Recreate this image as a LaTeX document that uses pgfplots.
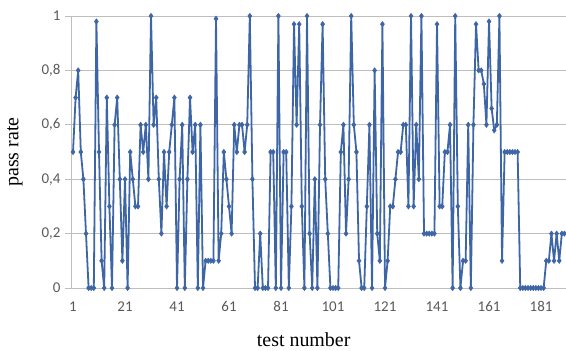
\documentclass[border=0pt]{standalone}
\usepackage{pgfplots}
\pgfplotsset{compat=1.18}
\usepackage{pgfplotstable}
\usepackage{fontspec}
\setmainfont{Liberation Serif}
\newfontfamily\carlito{Carlito}
\definecolor{serblue}{RGB}{62,102,166}
\definecolor{gridgray}{RGB}{190,190,190}
\definecolor{ticktext}{RGB}{89,89,89}
\pgfplotstableread{
x y
1 0.5
2 0.7
3 0.8
4 0.5
5 0.4
6 0.2
7 0
8 0
9 0
10 0.98
11 0.5
12 0.1
13 0
14 0.7
15 0.3
16 0
17 0.6
18 0.7
19 0.4
20 0.1
21 0.4
22 0
23 0.5
24 0.4
25 0.3
26 0.3
27 0.6
28 0.5
29 0.6
30 0.4
31 1.0
32 0.6
33 0.7
34 0.4
35 0.2
36 0.5
37 0.3
38 0.5
39 0.6
40 0.7
41 0
42 0.4
43 0.6
44 0
45 0.4
46 0.7
47 0.5
48 0.6
49 0
50 0.6
51 0
52 0.1
53 0.1
54 0.1
55 0.1
56 0.99
57 0.1
58 0.2
59 0.5
60 0.4
61 0.3
62 0.2
63 0.6
64 0.5
65 0.6
66 0.6
67 0.5
68 0.6
69 1.0
70 0.4
71 0
72 0
73 0.2
74 0
75 0
76 0
77 0.5
78 0.5
79 0
80 1.0
81 0
82 0.5
83 0.5
84 0
85 0.3
86 0.97
87 0.6
88 0.97
89 0.3
90 0
91 1.0
92 0.2
93 0
94 0.4
95 0
96 0.6
97 0.97
98 0.4
99 0.2
100 0
101 0
102 0
103 0
104 0.5
105 0.6
106 0.2
107 0.4
108 1.0
109 0.6
110 0.5
111 0.1
112 0
113 0
114 0.3
115 0.6
116 0
117 0.8
118 0.2
119 0.1
120 0.97
121 0
122 0.1
123 0.3
124 0.3
125 0.4
126 0.5
127 0.5
128 0.6
129 0.6
130 0.3
131 1.0
132 0.3
133 0.6
134 0.4
135 1.0
136 0.2
137 0.2
138 0.2
139 0.2
140 0.2
141 0.97
142 0.3
143 0.3
144 0.5
145 0.5
146 0.6
147 0
148 1.0
149 0.3
150 0
151 0.1
152 0.1
153 0.6
154 0
155 0.6
156 0.97
157 0.8
158 0.8
159 0.75
160 0.6
161 0.98
162 0.66
163 0.58
164 0.6
165 1.0
166 0.1
167 0.5
168 0.5
169 0.5
170 0.5
171 0.5
172 0.5
173 0
174 0
175 0
176 0
177 0
178 0
179 0
180 0
181 0
182 0
183 0.1
184 0.1
185 0.2
186 0.1
187 0.2
188 0.1
189 0.2
190 0.2
}\datatable
\begin{document}
\begin{tikzpicture}
\begin{axis}[
  scale only axis,
  width=495bp, height=272bp,
  xmin=0.23, xmax=190.6,
  ymin=0, ymax=1,
  axis lines*=left,
  axis line style={gridgray, line width=0.8bp},
  xtick={1,21,41,61,81,101,121,141,161,181},
  ytick={0,0.2,0.4,0.6,0.8,1},
  ymajorgrids,
  major grid style={gridgray, line width=0.8bp},
  xtick style={draw=none},
  ytick style={gridgray, line width=0.8bp},
  tick align=outside,
  major tick length=6bp,
  /pgf/number format/assume math mode=true,
  /pgf/number format/use comma,
  /pgf/number format/fixed,
  /pgf/number format/precision=1,
  ticklabel style={font=\carlito\fontsize{15}{18}\selectfont, text=ticktext},
  xticklabel style={yshift=-4bp},
  yticklabel style={xshift=-1bp},
  xlabel={test number},
  ylabel={pass rate},
  label style={font=\fontsize{20}{24}\selectfont},
  xlabel style={at={(rel axis cs:0.47,0)}, anchor=center, yshift=-52bp},
  ylabel style={at={(rel axis cs:0,0.5)}, anchor=center, yshift=56bp},
  clip=false,
]
\addplot[serblue, line width=1.8bp, mark=diamond*, mark size=2.6bp, mark options={fill=serblue, line width=0.6bp}] table[x=x,y=y] {\datatable};
\coordinate (sw) at (rel axis cs:0,0);
\coordinate (ne) at (rel axis cs:1,1);
\end{axis}
\pgfresetboundingbox
\path ([xshift=-71bp,yshift=-63bp]sw) rectangle ([yshift=16bp]ne);
\end{tikzpicture}
\end{document}
